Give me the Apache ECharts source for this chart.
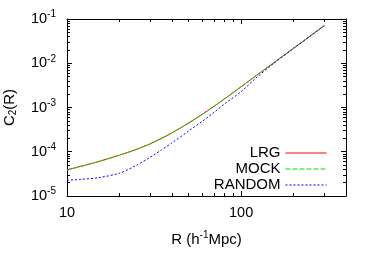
<!DOCTYPE html>
<html>
<head>
<meta charset="utf-8">
<script src="https://cdn.jsdelivr.net/npm/echarts@6/dist/echarts.min.js"></script>
<style>
html,body{margin:0;padding:0;background:#fff;}
#c{width:374px;height:262px;}
</style>
</head>
<body>
<div id="c"></div>
<script>
const R = [10, 12, 15, 20, 25, 30, 35, 40, 50, 60, 70, 80, 100, 120, 150, 200, 250, 300];
const lrg = [3.91e-5, 4.69e-5, 5.93e-5, 8.38e-5, 1.13e-4, 1.51e-4, 2.02e-4, 2.67e-4, 4.47e-4, 7.08e-4, 1.07e-3, 1.55e-3, 2.95e-3, 5.01e-3, 9.55e-3, 2.19e-2, 4.17e-2, 7.08e-2];
const mock = [3.87e-5, 4.66e-5, 5.90e-5, 8.35e-5, 1.13e-4, 1.51e-4, 2.01e-4, 2.66e-4, 4.46e-4, 7.06e-4, 1.07e-3, 1.55e-3, 2.94e-3, 5.00e-3, 9.53e-3, 2.19e-2, 4.16e-2, 7.06e-2];
const random = [2.26e-5, 2.38e-5, 2.58e-5, 3.28e-5, 4.92e-5, 7.50e-5, 1.11e-4, 1.58e-4, 2.95e-4, 4.92e-4, 7.83e-4, 1.19e-3, 2.28e-3, 4.41e-3, 9.16e-3, 2.16e-2, 4.14e-2, 7.06e-2];
const seriesNames = ['LRG', 'MOCK', 'RANDOM'];
const xMajorTicks = [10, 100];
const xMinorTicks = [20, 30, 40, 50, 60, 70, 80, 90, 200, 300, 400];
const yMajorTicks = [1e-5, 1e-4, 1e-3, 1e-2, 1e-1];
const yMinorTicks = [2e-5,3e-5,4e-5,5e-5,6e-5,7e-5,8e-5,9e-5,
  2e-4,3e-4,4e-4,5e-4,6e-4,7e-4,8e-4,9e-4,
  2e-3,3e-3,4e-3,5e-3,6e-3,7e-3,8e-3,9e-3,
  2e-2,3e-2,4e-2,5e-2,6e-2,7e-2,8e-2,9e-2];

const FONT = '"Liberation Sans", Arial, sans-serif';
const black = '#000';

function pairs(ys){ return R.map((r,i)=>[r, ys[i]]); }

function xAxisDef(pos, major, showLine, showLabel){
  return {
    type: 'log', logBase: 10, min: 10, max: 400, position: pos,
    axisLine: {show: showLine, onZero: false, lineStyle: {color: black, width: 1}},
    axisTick: {show: true, inside: true, length: major ? 5 : 3,
      customValues: major ? xMajorTicks : xMinorTicks, lineStyle: {color: black, width: 1}},
    axisLabel: {show: showLabel, customValues: xMajorTicks, color: black, fontSize: 14.5,
      fontFamily: FONT, margin: 9, formatter: v => String(Math.round(v))},
    splitLine: {show: false}, minorTick: {show: false}
  };
}
function yAxisDef(pos, major, showLine, showLabel){
  return {
    type: 'log', logBase: 10, min: 1e-5, max: 1e-1, position: pos,
    axisLine: {show: showLine, onZero: false, lineStyle: {color: black, width: 1}},
    axisTick: {show: true, inside: true, length: major ? 5 : 3,
      customValues: major ? yMajorTicks : yMinorTicks, lineStyle: {color: black, width: 1}},
    axisLabel: {show: showLabel, customValues: yMajorTicks, margin: 11,
      formatter: v => '{b|10}{s|' + Math.round(Math.log10(v)) + '}',
      rich: {
        b: {fontSize: 14.5, color: black, fontFamily: FONT},
        s: {fontSize: 10, color: black, fontFamily: FONT, padding: [0,0,9,0]}
      }},
    splitLine: {show: false}, minorTick: {show: false}
  };
}

const xAxes = [
  xAxisDef('bottom', true, true, true),
  xAxisDef('bottom', false, false, false),
  xAxisDef('top', true, true, false),
  xAxisDef('top', false, false, false)
];
xAxes[0].name = '{n|R (h}{s|-1}{n|Mpc)}';
xAxes[0].nameLocation = 'middle';
xAxes[0].nameGap = 34;
xAxes[0].nameTextStyle = {rich: {
  n: {fontSize: 15, color: black, fontFamily: FONT},
  s: {fontSize: 10, color: black, fontFamily: FONT, padding: [0,0,9,0]}
}};

const yAxes = [
  yAxisDef('left', true, true, true),
  yAxisDef('left', false, false, false),
  yAxisDef('right', true, true, false),
  yAxisDef('right', false, false, false)
];
yAxes[0].name = '{n|C}{sub|2}{n|(R)}';
yAxes[0].nameLocation = 'middle';
yAxes[0].nameRotate = 90;
yAxes[0].nameGap = 49;
yAxes[0].nameTextStyle = {rich: {
  n: {fontSize: 15, color: black, fontFamily: FONT},
  sub: {fontSize: 10, color: black, fontFamily: FONT, padding: [7,0,0,0]}
}};

const colors = ['#ff0000', '#00e000', '#0000ff'];
const dashes = ['solid', [5, 2], [2, 2]];
const dataSets = [lrg, mock, random];

const chart = echarts.init(document.getElementById('c'), null, {renderer: 'canvas'});
chart.setOption({
  backgroundColor: '#fff',
  animation: false,
  grid: {left: 67, right: 28, top: 19, bottom: 66, containLabel: false, outerBoundsMode: 'none'},
  legend: {
    data: seriesNames, right: 47, left: 'auto', top: 145, bottom: 'auto',
    orient: 'vertical', align: 'right', padding: 0,
    itemWidth: 41, itemHeight: 12, itemGap: 0, selectedMode: false,
    itemStyle: {opacity: 0},
    lineStyle: {width: 1},
    textStyle: {fontSize: 15, color: black, fontFamily: FONT, lineHeight: 16}
  },
  xAxis: xAxes,
  yAxis: yAxes,
  series: seriesNames.map((n, i) => ({
    name: n, type: 'line', xAxisIndex: 0, yAxisIndex: 0,
    data: pairs(dataSets[i]), smooth: 0.3, symbol: 'none',
    lineStyle: {color: colors[i], width: 1, type: dashes[i]},
    itemStyle: {color: colors[i]}
  }))
});
</script>
</body>
</html>
